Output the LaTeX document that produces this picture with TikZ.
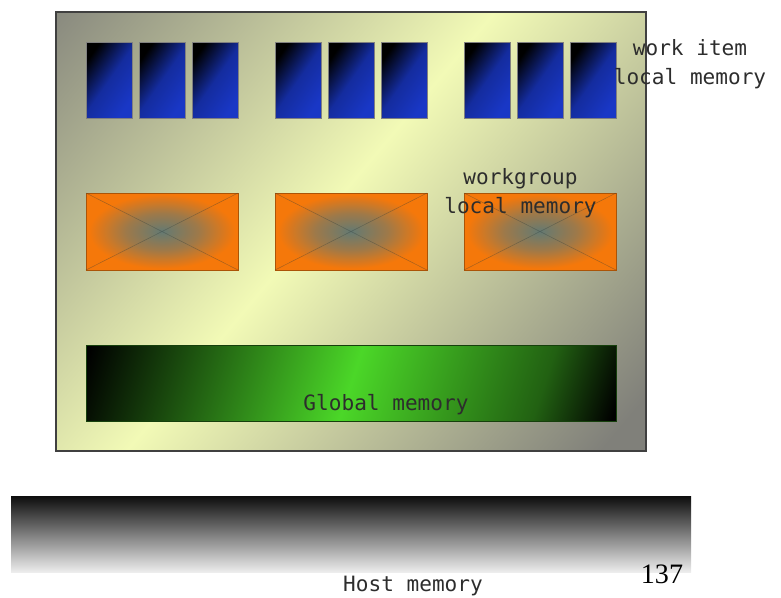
\documentclass[tikz,border=0pt]{standalone}
\usepackage{fontspec}
\setmonofont{DejaVu Sans Mono}
\newfontfamily\slidefont{Liberation Serif}
\usepackage{tikz}
\usetikzlibrary{positioning,calc}
\definecolor{devgray}{RGB}{128,128,122}
\definecolor{devyellow}{RGB}{242,250,182}
\definecolor{wiblue}{RGB}{25,55,198}
\definecolor{wgorange}{RGB}{245,120,10}
\definecolor{wggray}{RGB}{100,122,115}
\definecolor{gmgreen}{RGB}{75,215,40}
\definecolor{labelgray}{RGB}{45,45,45}
\pgfdeclareradialshading{wgglow}{\pgfpoint{0cm}{0cm}}{color(0bp)=(wggray); color(12bp)=(wggray!60!wgorange); color(24bp)=(wgorange); color(50bp)=(wgorange)}
\pgfdeclareverticalshading{devshade}{100bp}{color(0bp)=(devgray); color(18bp)=(devgray); color(53bp)=(devyellow); color(88bp)=(devgray); color(100bp)=(devgray)}
\pgfdeclareverticalshading{gmshade}{100bp}{color(0bp)=(black); color(19bp)=(black); color(28bp)=(gmgreen!45!black); color(50bp)=(gmgreen); color(81bp)=(black); color(100bp)=(black)}

\begin{document}
\begin{tikzpicture}[
      membox/.style={inner sep=0pt, outer sep=0pt},
      wibox/.style={membox, draw=gray, line width=0.4pt, minimum width=0.92cm, minimum height=1.52cm,
                    top color=black, bottom color=wiblue, middle color=wiblue!80!black, shading angle=55},
      wgbox/.style={membox, draw=wgorange!70!black, line width=0.4pt, minimum width=3.04cm, minimum height=1.54cm,
                    shading=wgglow},
      xline/.style={wggray!50!black, line width=0.3pt, opacity=0.4},
      lbl/.style={text=labelgray, align=center, font=\ttfamily\fontsize{12}{16.5}\selectfont}]
    \useasboundingbox (0,0) rectangle (15.62,-11.94);
    % the device
    \node[membox, draw=black!75, line width=1.1pt, minimum width=11.8cm, minimum height=8.78cm,
          shading=devshade, shading angle=50]
         (dev) at (7.02,-4.63) {};
    % private memory, three per group
    \foreach \g in {0,1,2}
      \foreach \i in {0,1,2}
        \node[wibox] (wi\g\i) at ({2.18+3.78*\g+1.06*\i},-1.6) {};
    % local memory
    \node[wgbox] (wg1) at (3.24,-4.63) {};
    \node[wgbox] (wg2) at (7.02,-4.63) {};
    \node[wgbox] (wg3) at (10.8,-4.63) {};
    \foreach \n in {1,2,3}
      \draw[xline] (wg\n.north west) -- (wg\n.south east) (wg\n.north east) -- (wg\n.south west);
    % global and host memory
    \node[membox, draw=black!70!gmgreen, line width=0.5pt, minimum width=10.6cm, minimum height=1.52cm,
          shading=gmshade, shading angle=72]
         (gm) at (7.02,-7.66) {};
    \node[membox, minimum width=13.6cm, minimum height=1.52cm, top color=black!95, bottom color=black!7]
         (hm) at (7.02,-10.68) {};
    % labels
    \node[lbl] (wilbl) at (13.8,-1.29) {work item\\local memory};
    \node[lbl] (wglbl) at (10.41,-3.87) {workgroup\\local memory};
    \node[lbl] (gmlbl) at (7.72,-8.1) {Global memory};
    \node[lbl] (hmlbl) at (8.26,-11.72) {Host memory};
    \node[font=\slidefont\fontsize{16}{19}\selectfont] (page) at (13.24,-11.48) {137};
  \end{tikzpicture}
\end{document}
